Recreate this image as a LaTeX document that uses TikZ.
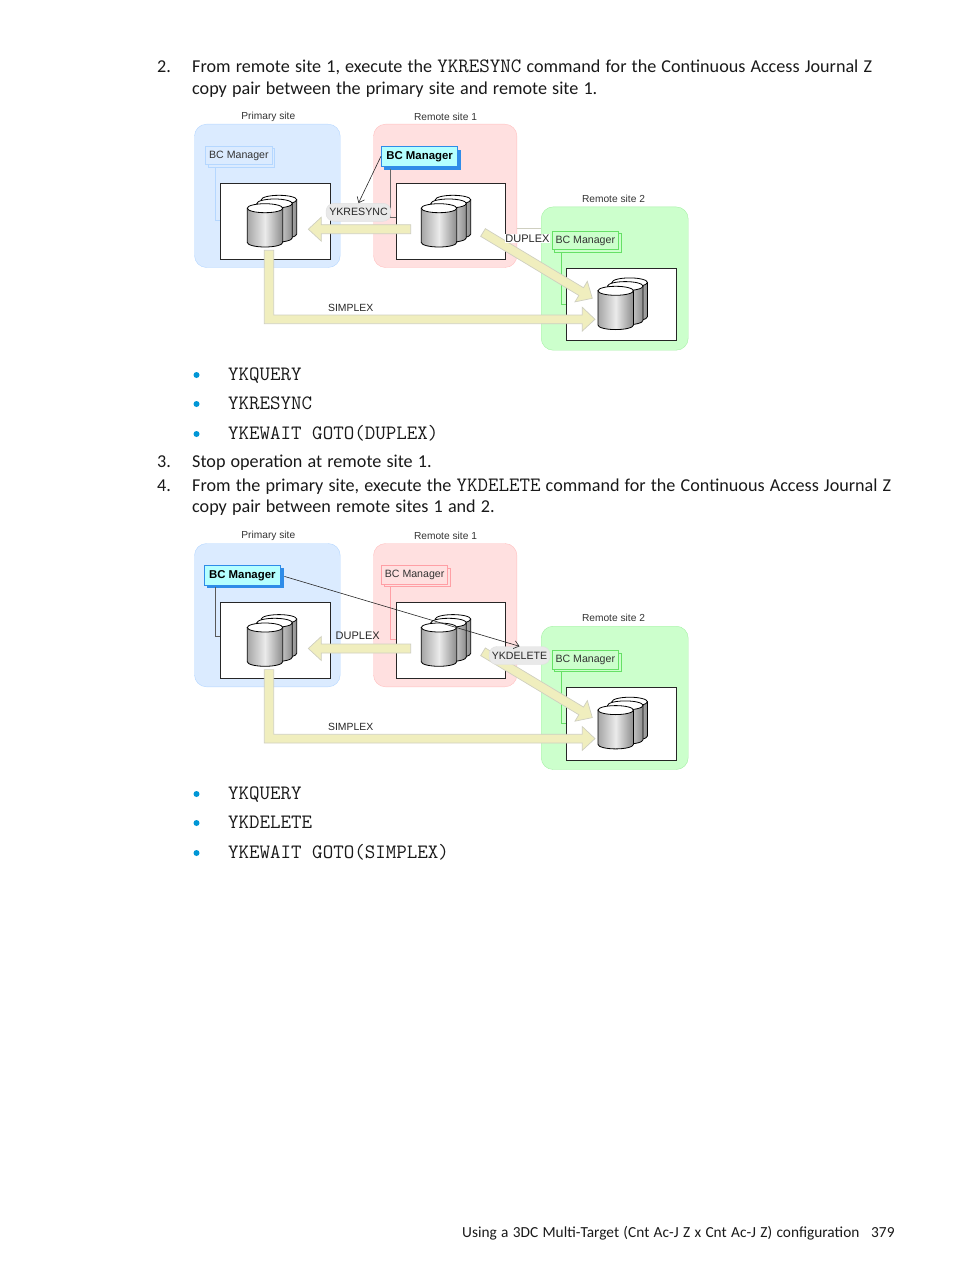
\documentclass[tikz,border=0pt]{standalone}
\usepackage{fontspec}
\setmainfont[WordSpace=1.25]{Carlito}
\newfontfamily\figfont{Liberation Sans}
\usetikzlibrary{calc,arrows.meta,shadows}
\definecolor{bluesite}{HTML}{DBEBFF}
\definecolor{blueline}{HTML}{B5D7FF}
\definecolor{redsite}{HTML}{FFE0E0}
\definecolor{redline}{HTML}{FFC0C0}
\definecolor{redmgr}{HTML}{FF9FA5}
\definecolor{greensite}{HTML}{CCFFCC}
\definecolor{greenline}{HTML}{A6F0A6}
\definecolor{greenmgr}{HTML}{66E066}
\definecolor{activefill}{HTML}{B5FFFF}
\definecolor{activeshadow}{HTML}{2F8CE8}
\definecolor{arrowfill}{HTML}{F0EEBE}
\definecolor{arrowline}{HTML}{CFCFC0}
\definecolor{pillfill}{HTML}{E9E9E9}
\definecolor{bullet}{HTML}{0096D6}
\tikzset{
  sitebox/.style={rounded corners=12pt,minimum height=143.3pt,anchor=north west,inner sep=0pt},
  serverbox/.style={draw=black!85,fill=white,line width=1pt,anchor=north west,inner sep=0pt,minimum width=110pt},
  sitelabel/.style={font=\figfont\fontsize{10.2}{12}\selectfont,text=black!80,inner sep=0pt},
  statelabel/.style={font=\figfont\fontsize{11}{13}\selectfont,text=black!85,inner sep=0pt},
  mgridle/.style={font=\figfont\fontsize{10.6}{12}\selectfont,text=black!80,line width=0.8pt,inner sep=0pt,minimum width=66.4pt,minimum height=18.6pt,anchor=north west},
  mgractive/.style={font=\figfont\bfseries\fontsize{11.4}{13}\selectfont,draw=activeshadow,fill=activefill,line width=0.8pt,inner sep=0pt,minimum width=76.4pt,minimum height=20pt,anchor=north west,general shadow={fill=activeshadow,shadow xshift=3pt,shadow yshift=-3pt}},
  pill/.style={font=\figfont\fontsize{10.6}{13}\selectfont,text=black!85,draw=black!12,fill=pillfill,rounded corners=8pt,inner sep=0pt,minimum height=18pt},
  fatarrow/.style={draw=arrowline,fill=arrowfill,line width=0.7pt,line join=miter},
  cmdarrow/.style={draw=black!85,line width=0.6pt,-{Straight Barb[length=5pt,width=8pt]}},
  bodyline/.style={anchor=base west,inner sep=0pt,font=\fontsize{18.15}{22}\selectfont,text=black!90},
  footline/.style={bodyline,font=\fontsize{15.35}{18}\selectfont},
  codeline/.style={anchor=base west,inner sep=0pt,font=\ttfamily\fontsize{20.4}{22}\selectfont,text=black!90},
  dot/.style={circle,fill=bullet,inner sep=0pt,minimum size=6pt},
  disk/.pic={
    \draw[black,line width=0.8pt,left color=black!35,right color=black!45,middle color=black!8]
      (-17.7,0) -- (-17.7,34.3) arc[start angle=180,end angle=360,x radius=17.7pt,y radius=4.5pt] -- (17.7,0) -- cycle;
    \draw[black,line width=0.8pt,fill=white] (0,0) ellipse[x radius=17.7pt,y radius=4.5pt];
  }
}
\newcommand{\diskstack}[2]{
  \pic at (#1+14,#2-8.4) {disk};
  \pic at (#1+9.6,#2-4.7) {disk};
  \pic at (#1,#2) {disk};
}
\newcommand{\fatarrow}[2]{
  \coordinate (hb) at ($(#2)!13pt!(#1)$);
  \draw[fatarrow] ($(#1)!4.5pt!90:(#2)$) -- ($(hb)!4.5pt!90:(#2)$) -- ($(hb)!12pt!90:(#2)$) -- (#2)
    -- ($(hb)!12pt!-90:(#2)$) -- ($(hb)!4.5pt!-90:(#2)$) -- ($(#1)!4.5pt!-90:(#2)$) -- cycle;
}
\newcommand{\sitesback}[1]{
  \node[sitebox,draw=blueline,fill=bluesite,minimum width=145.7pt] (#1primary) at (194.3,124) {};
  \node[sitebox,draw=redline,fill=redsite,minimum width=143.4pt] (#1remotea) at (373.3,124) {};
  \node[sitebox,draw=greenline,fill=greensite,minimum width=147pt] (#1remoteb) at (541,206.7) {};
  \node[sitelabel] (#1primarylbl) at (268.3,116.8) {Primary site};
  \node[sitelabel] (#1remotealbl) at (445.5,117) {Remote site 1};
  \node[sitelabel] (#1remoteblbl) at (613.5,198.8) {Remote site 2};
}
\newcommand{\sitesfront}[1]{
  \node[serverbox,minimum height=75.7pt] (#1serverp) at (220.2,183) {};
  \node[serverbox,minimum height=75.7pt,minimum width=109.4pt] (#1servera) at (395.8,183) {};
  \node[serverbox,minimum height=72.6pt] (#1serverb) at (566.2,267.7) {};
  \diskstack{265}{208.2}
  \diskstack{439}{208.2}
  \diskstack{615.7}{290.8}
  \coordinate (#1lefttail) at (410.7,229.2);
  \coordinate (#1lefttip) at (308.3,229.2);
  \fatarrow{#1lefttail}{#1lefttip}
  \coordinate (#1diagtail) at (483,232.5);
  \coordinate (#1diagtip) at (592.3,298.3);
  \fatarrow{#1diagtail}{#1diagtip}
  \coordinate (#1simplextail) at (269,250.3);
  \coordinate (#1simplextip) at (595,319.3);
  \draw[fatarrow] (#1simplextail) ++(-4.7,0) -- ++(0,73.4) -- ++(318,0) -- ++(0,7.3) -- (#1simplextip)
    -- ++(-12.7,-12) -- ++(0,7.7) -- ++(-308.6,0) -- ++(0,-64.7) -- cycle;
  \node[statelabel,font=\figfont\fontsize{10.4}{13}\selectfont] (#1simplex) at (350.7,307.6) {SIMPLEX};
}
\begin{document}
\begin{tikzpicture}[x=1pt,y=-1pt]
  \useasboundingbox (0,0) rectangle (954,1271);

  \node[bodyline] (numtwo) at (157,72.5) {2.};
  \node[bodyline] (steptwoa) at (192,72.5) {From remote site 1, execute the \texttt{\fontsize{20.4}{22}\selectfont YKRESYNC} command for the Continuous Access Journal Z};
  \node[bodyline] (steptwob) at (192,94.5) {copy pair between the primary site and remote site 1.};

  \sitesback{a}
  \draw[draw=arrowline,line width=0.6pt] (516.7,228.3) coordinate (alinel) -- (541,228.3) coordinate (aliner);
  \node[mgridle,draw=blueline,fill=bluesite,general shadow={fill=bluesite,draw=blueline,shadow xshift=2.5pt,shadow yshift=-2.5pt}] (amgrp) at (205.3,145.7) {BC Manager};
  \node[mgractive] (amgra) at (381,146.3) {BC Manager};
  \node[mgridle,draw=greenmgr,fill=greensite,general shadow={fill=greensite,draw=greenmgr,shadow xshift=2.5pt,shadow yshift=-2.5pt}] (amgrb) at (551.7,230.7) {BC Manager};
  \draw[blueline,line width=0.8pt] (215.3,167) |- (220.7,220);
  \draw[black!60,line width=0.8pt] (390,169) |- (396.3,217.7);
  \draw[greenmgr,line width=0.7pt] (561.7,252) |- (566.7,304.3);
  \sitesfront{a}
  \node[statelabel,fill=white,inner sep=0.5pt] (aduplex) at (527.5,238.3) {DUPLEX};
  \node[pill,minimum width=65pt] (aresync) at (358.5,212.3) {YKRESYNC};
  \draw[cmdarrow] (amgra.west) ++(0,-0.5) -- (aresync.north);

  \node[dot] (bulleta) at (196.5,375) {};
  \node[codeline] (codea) at (228,380.5) {YKQUERY};
  \node[dot] (bulletb) at (196.5,404) {};
  \node[codeline] (codeb) at (228,409.5) {YKRESYNC};
  \node[dot] (bulletc) at (196.5,434) {};
  \node[codeline] (codec) at (228,439.5) {YKEWAIT GOTO(DUPLEX)};

  \node[bodyline] (numthree) at (157,467) {3.};
  \node[bodyline] (stepthree) at (192,467) {Stop operation at remote site 1.};
  \node[bodyline] (numfour) at (157,491) {4.};
  \node[bodyline] (stepfoura) at (192,491) {From the primary site, execute the \texttt{\fontsize{20.4}{22}\selectfont YKDELETE} command for the Continuous Access Journal Z};
  \node[bodyline] (stepfourb) at (192,512.5) {copy pair between remote sites 1 and 2.};

  \begin{scope}[yshift=-419.3pt]
    \sitesback{b}
    \node[mgractive] (bmgrp) at (203.7,145.7) {BC Manager};
    \node[mgridle,draw=redmgr,fill=redsite,general shadow={fill=redsite,draw=redmgr,shadow xshift=2.5pt,shadow yshift=-2.5pt}] (bmgra) at (381,145.7) {BC Manager};
    \node[mgridle,draw=greenmgr,fill=greensite,general shadow={fill=greensite,draw=greenmgr,shadow xshift=2.5pt,shadow yshift=-2.5pt}] (bmgrb) at (551.7,230.7) {BC Manager};
    \draw[black!65,line width=0.8pt] (215.3,168) |- (220.7,217.4);
    \draw[redmgr,line width=0.8pt] (390,167) |- (396.3,219.7);
    \draw[greenmgr,line width=0.7pt] (561.7,252) |- (566.7,304.3);
    \sitesfront{b}
    \node[statelabel] (bduplex) at (357.7,216.7) {DUPLEX};
    \node[pill,minimum width=61pt] (bdelete) at (519.5,236.2) {YKDELETE};
    \draw[cmdarrow] (bmgrp.east) ++(3.5,1) -- (bdelete.north);
  \end{scope}

  \node[dot] (bulletd) at (196.5,794) {};
  \node[codeline] (coded) at (228,799.5) {YKQUERY};
  \node[dot] (bullete) at (196.5,823) {};
  \node[codeline] (codee) at (228,828.5) {YKDELETE};
  \node[dot] (bulletf) at (196.5,853) {};
  \node[codeline] (codef) at (228,858.5) {YKEWAIT GOTO(SIMPLEX)};

  \node[footline] (footer) at (462,1237.5) {Using a 3DC Multi-Target (Cnt Ac-J Z x Cnt Ac-J Z) configuration};
  \node[footline] (pagenum) at (871,1237.5) {379};
\end{tikzpicture}
\end{document}
